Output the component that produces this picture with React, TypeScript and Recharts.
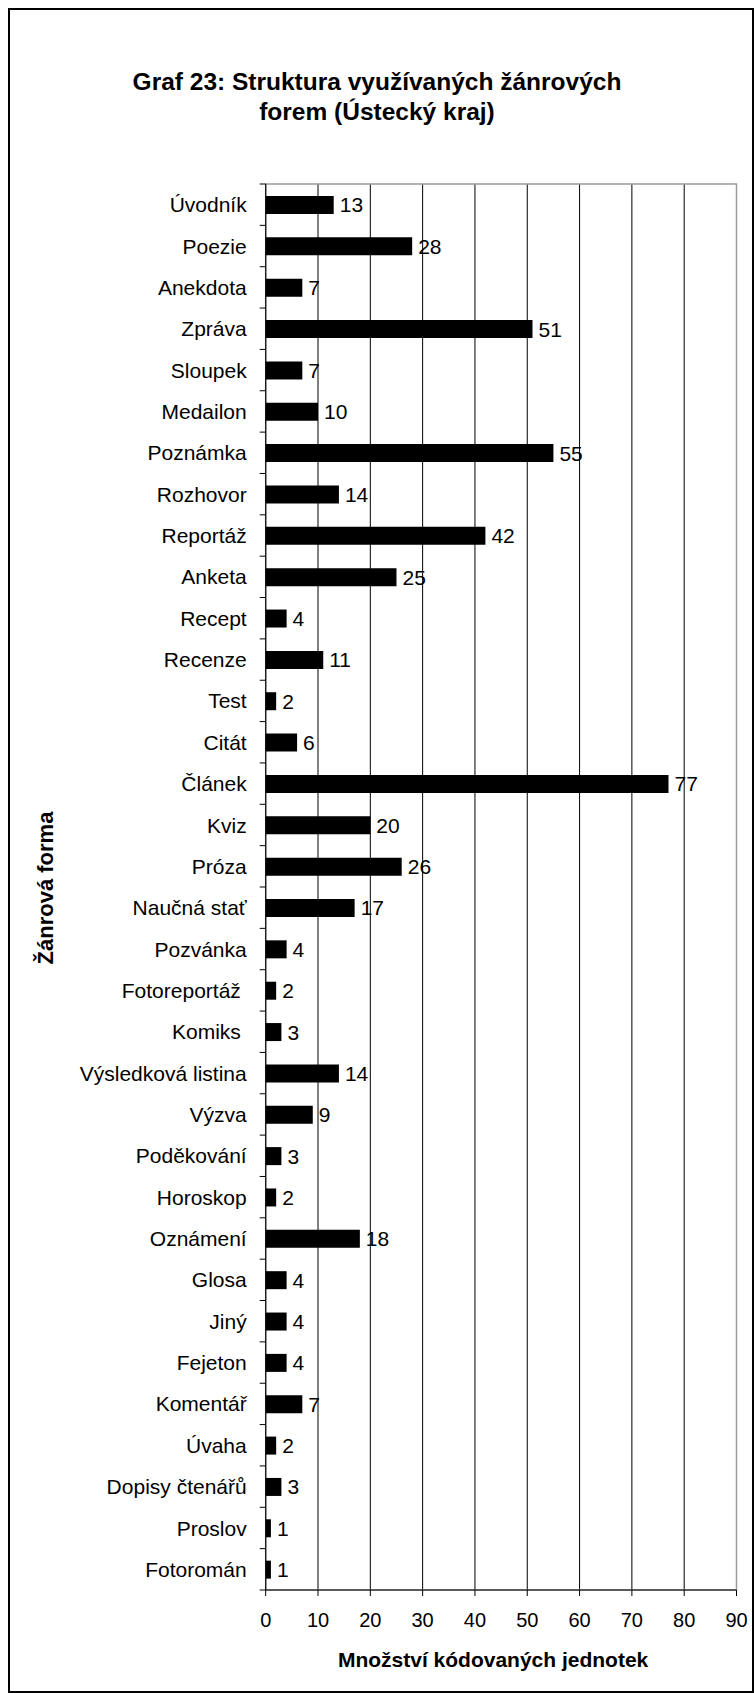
import React from 'react';
import { BarChart, Bar, XAxis, YAxis, CartesianGrid, ReferenceArea, LabelList } from 'recharts';

const categories = [
  'Úvodník', 'Poezie', 'Anekdota', 'Zpráva', 'Sloupek', 'Medailon', 'Poznámka', 'Rozhovor',
  'Reportáž', 'Anketa', 'Recept', 'Recenze', 'Test', 'Citát', 'Článek', 'Kviz', 'Próza',
  'Naučná stať', 'Pozvánka', 'Fotoreportáž ', 'Komiks ', 'Výsledková listina', 'Výzva',
  'Poděkování', 'Horoskop', 'Oznámení', 'Glosa', 'Jiný', 'Fejeton', 'Komentář', 'Úvaha',
  'Dopisy čtenářů', 'Proslov', 'Fotoromán',
];

const counts = [
  13, 28, 7, 51, 7, 10, 55, 14,
  42, 25, 4, 11, 2, 6, 77, 20, 26,
  17, 4, 2, 3, 14, 9,
  3, 2, 18, 4, 4, 4, 7, 2,
  3, 1, 1,
];

const xTicks = [0, 10, 20, 30, 40, 50, 60, 70, 80, 90];

const titleLines = ['Graf 23: Struktura využívaných žánrových', 'forem (Ústecký kraj)'];
const xTitle = 'Množství kódovaných jednotek';
const yTitle = 'Žánrová forma';

const data = categories.map((name, i) => ({ name, value: counts[i] }));

const FONT = "'Liberation Sans', Arial, Helvetica, sans-serif";
const W = 755;
const H = 1693;
const PLOT_LEFT = 265.7;
const PLOT_RIGHT = 736.5;
const PLOT_TOP = 184;
const PLOT_BOTTOM = 1590;
const Y_AXIS_W = 200;
const X_AXIS_H = 40;
const Y_TICK_SIZE = 6;
const Y_TICK_MARGIN = 13;
const FALLBACK_HALF = (PLOT_BOTTOM - PLOT_TOP) / categories.length / 2;

function CategoryTick(props: any) {
  const { x, y, payload, index, visibleTicksCount } = props;
  const half = typeof payload?.offset === 'number' && payload.offset > 0 ? payload.offset : FALLBACK_HALF;
  const axisX = x + Y_TICK_SIZE + Y_TICK_MARGIN;
  const isLast = index === (visibleTicksCount ?? categories.length) - 1;
  return (
    <g>
      <line x1={axisX - Y_TICK_SIZE} x2={axisX} y1={y - half} y2={y - half} stroke="#000" strokeWidth={1} />
      {isLast && (
        <line x1={axisX - Y_TICK_SIZE} x2={axisX} y1={y + half} y2={y + half} stroke="#000" strokeWidth={1} />
      )}
      <text
        x={x}
        y={y}
        dy="0.36em"
        textAnchor="end"
        fill="#000"
        fontSize={21}
        fontFamily={FONT}
        style={{ whiteSpace: 'pre' }}
      >
        {payload.value}
      </text>
    </g>
  );
}

export default function App() {
  return (
    <div style={{ position: 'absolute', left: 0, top: 0, width: W, height: H, background: '#fff', fontFamily: FONT, overflow: 'hidden' }}>
      <div
        style={{
          position: 'absolute', left: 8, top: 8, width: 746, height: H - 8,
          border: '2px solid #000', boxSizing: 'border-box',
        }}
      />
      <div
        style={{
          position: 'absolute', left: 0, width: 754, top: 67, textAlign: 'center',
          fontSize: 24.5, fontWeight: 'bold', lineHeight: '30px', color: '#000',
        }}
      >
        {titleLines.map((t) => (
          <div key={t}>{t}</div>
        ))}
      </div>
      <div style={{ position: 'absolute', left: 0, top: 0 }}>
        <BarChart
          width={W}
          height={H}
          data={data}
          layout="vertical"
          margin={{ top: PLOT_TOP, right: W - PLOT_RIGHT, bottom: H - PLOT_BOTTOM - X_AXIS_H, left: PLOT_LEFT - Y_AXIS_W }}
          barSize={18}
        >
          <CartesianGrid horizontal={false} vertical stroke="#000" strokeWidth={1} />
          <ReferenceArea x1={0} x2={90} fill="none" fillOpacity={0} stroke="#9a9a9a" strokeWidth={1.5} ifOverflow="visible" />
          <XAxis
            type="number"
            domain={[0, 90]}
            ticks={xTicks}
            interval={0}
            height={X_AXIS_H}
            tickSize={6}
            tickMargin={17}
            axisLine={{ stroke: '#000' }}
            tickLine={{ stroke: '#000' }}
            tick={{ fill: '#000', fontSize: 20, fontFamily: FONT }}
          />
          <YAxis
            type="category"
            dataKey="name"
            width={Y_AXIS_W}
            interval={0}
            tickSize={Y_TICK_SIZE}
            tickMargin={Y_TICK_MARGIN}
            axisLine={{ stroke: '#000' }}
            tickLine={false}
            tick={<CategoryTick />}
          />
          <Bar dataKey="value" fill="#000" isAnimationActive={false}>
            <LabelList dataKey="value" position="right" offset={6} fill="#000" fontSize={21} fontFamily={FONT} />
          </Bar>
        </BarChart>
      </div>
      <div
        style={{
          position: 'absolute', left: PLOT_LEFT - 8, width: PLOT_RIGHT - PLOT_LEFT, top: 1645, textAlign: 'center',
          fontSize: 21, fontWeight: 'bold', lineHeight: '30px', color: '#000', whiteSpace: 'nowrap',
        }}
      >
        {xTitle}
      </div>
      <div
        style={{
          position: 'absolute', left: 46, top: 888, transform: 'translate(-50%, -50%) rotate(-90deg)',
          fontSize: 22, fontWeight: 'bold', lineHeight: '30px', color: '#000', whiteSpace: 'nowrap',
        }}
      >
        {yTitle}
      </div>
    </div>
  );
}
